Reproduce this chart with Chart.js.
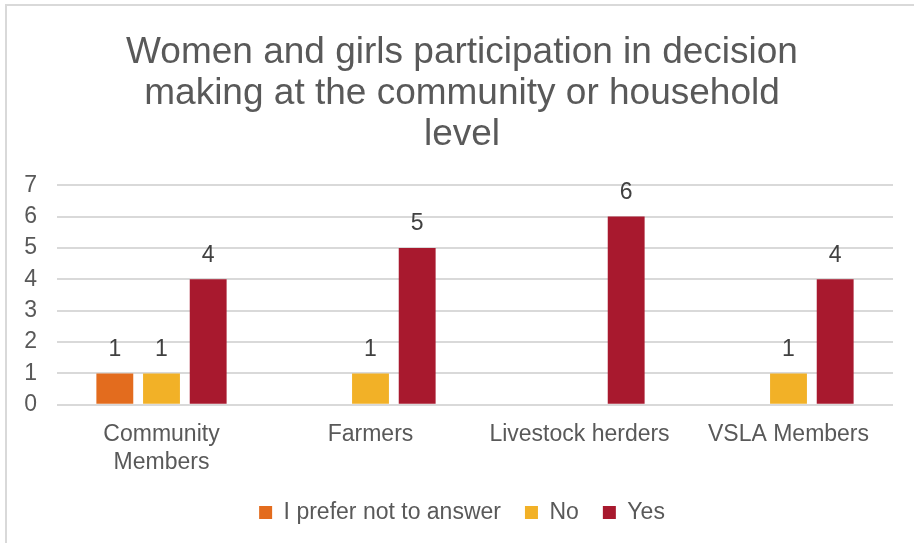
<!DOCTYPE html>
<html>
<head>
<meta charset="utf-8">
<script src="https://cdn.jsdelivr.net/npm/chart.js@4"></script>
<style>
  html, body { margin: 0; padding: 0; background: #fff; }
  #frame {
    position: absolute; left: 5px; top: 4px; width: 920px; height: 560px;
    border-left: 2px solid #d9d9d9; border-top: 2px solid #d9d9d9;
    box-sizing: border-box;
  }
  #wrap { position: absolute; left: 0; top: 0; width: 914px; height: 543px; }
</style>
</head>
<body>
<div id="frame"></div>
<div id="wrap"><canvas id="chart"></canvas></div>
<script>
const categories = [["Community", "Members"], "Farmers", "Livestock herders", "VSLA Members"];
const preferNot = [1, null, null, null];
const noValues = [1, 1, null, 1];
const yesValues = [4, 5, 6, 4];
const yTicks = [0, 1, 2, 3, 4, 5, 6, 7];

const textColor = "#595959";
const fontFamily = "'Liberation Sans', Arial, sans-serif";

// draws the value above each bar
const barLabels = {
  id: "barLabels",
  afterLayout(chart) {
    // let the y tick labels spill into the left padding without being clipped
    chart.scales.y.left = 0;
  },
  afterDatasetsDraw(chart) {
    const ctx = chart.ctx;
    ctx.save();
    ctx.font = "23px " + fontFamily;
    ctx.fillStyle = "#404040";
    ctx.textAlign = "center";
    ctx.textBaseline = "middle";
    chart.data.datasets.forEach((ds, i) => {
      chart.getDatasetMeta(i).data.forEach((bar, j) => {
        if (ds.data[j] == null) return;
        ctx.fillText(ds.data[j], bar.x, bar.y - 24);
      });
    });
    ctx.restore();
  },
};

document.addEventListener("DOMContentLoaded", function () {
  const ctx = document.getElementById("chart").getContext("2d");
  new Chart(ctx, {
    type: "bar",
    data: {
      labels: categories,
      datasets: [
        { label: "I prefer not to answer", data: preferNot, backgroundColor: "#E36C1E" },
        { label: "No", data: noValues, backgroundColor: "#F2B127" },
        { label: "Yes", data: yesValues, backgroundColor: "#A8192E" },
      ],
    },
    options: {
      responsive: true,
      maintainAspectRatio: false,
      animation: false,
      categoryPercentage: 0.67,
      barPercentage: 0.79,
      layout: { padding: { left: 31, right: 21, top: 32, bottom: 9 } },
      scales: {
        x: {
          grid: { display: false },
          border: { display: false },
          ticks: {
            color: textColor,
            font: { family: fontFamily, size: 23, lineHeight: 1.2 },
            maxRotation: 0,
            padding: 8,
          },
          afterFit: (scale) => { scale.height -= 7; },
        },
        y: {
          min: 0,
          max: 7,
          afterBuildTicks: (axis) => {
            axis.ticks = yTicks.map((v) => ({ value: v }));
          },
          afterFit: (scale) => { scale.width = 26; },
          grid: { color: "#d9d9d9", lineWidth: 2, drawTicks: false },
          border: { display: false },
          ticks: {
            color: textColor,
            font: { family: fontFamily, size: 23 },
            padding: 20,
          },
        },
      },
      plugins: {
        title: {
          display: true,
          text: [
            "Women and girls participation in decision",
            "making at the community or household",
            "level",
          ],
          color: textColor,
          font: { family: fontFamily, size: 37, weight: "normal", lineHeight: 1.11 },
          padding: { top: 0, bottom: 30 },
        },
        legend: {
          position: "bottom",
          labels: {
            color: textColor,
            font: { family: fontFamily, size: 23 },
            boxWidth: 13,
            boxHeight: 13,
            padding: 24,
          },
        },
        tooltip: { enabled: false },
      },
    },
    plugins: [barLabels],
  });
});
</script>
</body>
</html>
